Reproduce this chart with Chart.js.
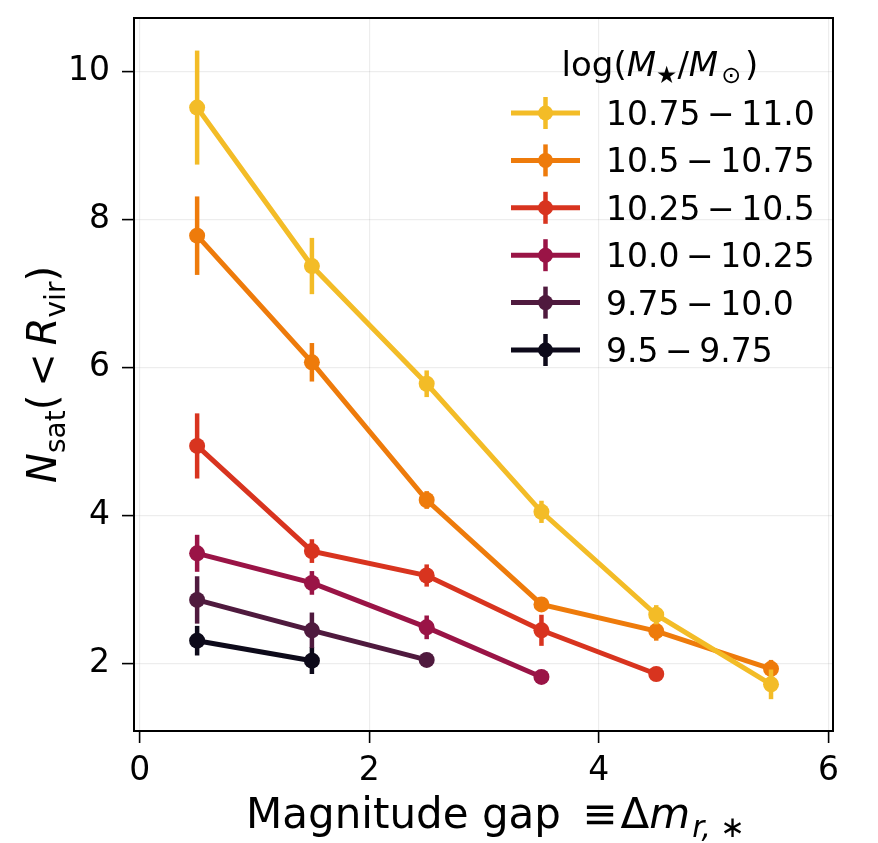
<!DOCTYPE html>
<html>
<head>
<meta charset="utf-8">
<script src="https://cdn.jsdelivr.net/npm/chart.js@4.4.1/dist/chart.umd.min.js"></script>
<style>
  html, body { margin: 0; padding: 0; background: #ffffff; }
  #wrap { width: 878px; height: 843px; position: relative; }
</style>
</head>
<body>
<div id="wrap"><canvas id="c"></canvas></div>
<script>
// ---- data ----
const gapBins = [0.5, 1.5, 2.5, 3.5, 4.5, 5.5];
const massLabels = ['10.75\u2009\u2212\u200911.0', '10.5\u2009\u2212\u200910.75', '10.25\u2009\u2212\u200910.5', '10.0\u2009\u2212\u200910.25', '9.75\u2009\u2212\u200910.0', '9.5\u2009\u2212\u20099.75'];
const nsat_1075_110 = [9.51, 7.37, 5.78, 4.05, 2.66, 1.72];
const err_1075_110  = [0.77, 0.38, 0.18, 0.15, 0.13, 0.20];
const nsat_105_1075 = [7.78, 6.07, 4.21, 2.80, 2.44, 1.93];
const err_105_1075  = [0.53, 0.26, 0.12, 0.08, 0.13, 0.12];
const nsat_1025_105 = [4.94, 3.52, 3.19, 2.45, 1.86];
const err_1025_105  = [0.44, 0.16, 0.15, 0.21, 0.07];
const nsat_100_1025 = [3.49, 3.09, 2.49, 1.82];
const err_100_1025  = [0.25, 0.16, 0.16, 0.06];
const nsat_975_100  = [2.86, 2.45, 2.05];
const err_975_100   = [0.32, 0.24, 0.08];
const nsat_95_975   = [2.31, 2.04];
const err_95_975    = [0.20, 0.18];
const xTicks = [0, 2, 4, 6];
const yTicks = [2, 4, 6, 8, 10];

const seriesValues = [nsat_1075_110, nsat_105_1075, nsat_1025_105, nsat_100_1025, nsat_975_100, nsat_95_975];
const seriesErrors = [err_1075_110, err_105_1075, err_1025_105, err_100_1025, err_975_100, err_95_975];
const seriesColors = ['#f3bc27', '#ee7b0b', '#d8341f', '#9a1446', '#4f1a3e', '#0d0a1a'];

const FONT = '"DejaVu Sans", "Liberation Sans", sans-serif';

const datasets = seriesValues.map((vals, i) => ({
  label: massLabels[i],
  data: vals.map((v, j) => ({ x: gapBins[j], y: v })),
  errors: seriesErrors[i],
  borderColor: seriesColors[i],
  backgroundColor: seriesColors[i],
  borderWidth: 5,
  pointRadius: 8,
  pointHoverRadius: 8,
  pointBorderWidth: 0,
  pointBackgroundColor: seriesColors[i],
  tension: 0,
  fill: false,
  order: i
}));

function richWidth(ctx, parts, size) {
  let w = 0;
  for (const p of parts) {
    const s = p.sub ? size * 0.7 : size;
    ctx.font = (p.italic ? 'italic ' : '') + s + 'px ' + FONT;
    w += ctx.measureText(p.t).width + (p.gap || 0);
  }
  return w;
}
function drawRich(ctx, parts, x, y, size, align) {
  const total = richWidth(ctx, parts, size);
  let cx = align === 'center' ? x - total / 2 : x;
  ctx.textAlign = 'left';
  ctx.textBaseline = 'alphabetic';
  for (const p of parts) {
    const s = p.sub ? size * 0.7 : size;
    ctx.font = (p.italic ? 'italic ' : '') + s + 'px ' + FONT;
    const dy = p.sub ? size * 0.22 : 0;
    ctx.fillText(p.t, cx, y + dy);
    cx += ctx.measureText(p.t).width + (p.gap || 0);
  }
}

const errorBarPlugin = {
  id: 'errorBars',
  beforeDatasetDraw(chart, args) {
    const ds = chart.data.datasets[args.index];
    const xs = chart.scales.x, ys = chart.scales.y;
    const ctx = chart.ctx;
    ctx.save();
    ctx.strokeStyle = ds.borderColor;
    ctx.lineWidth = 4.5;
    ctx.lineCap = 'butt';
    ds.data.forEach((pt, j) => {
      const e = ds.errors[j];
      const px = xs.getPixelForValue(pt.x);
      ctx.beginPath();
      ctx.moveTo(px, ys.getPixelForValue(pt.y - e));
      ctx.lineTo(px, ys.getPixelForValue(pt.y + e));
      ctx.stroke();
    });
    ctx.restore();
  }
};

const framePlugin = {
  id: 'frameAndTitles',
  afterDraw(chart) {
    const ctx = chart.ctx;
    const a = chart.chartArea;
    ctx.save();
    ctx.strokeStyle = '#000';
    ctx.lineWidth = 2;
    ctx.strokeRect(a.left, a.top, a.right - a.left, a.bottom - a.top);

    ctx.fillStyle = '#000';
    // x axis title
    drawRich(ctx, [
      { t: 'Magnitude gap ', gap: 8 },
      { t: '\u2261', gap: 3 },
      { t: '\u0394' },
      { t: 'm', italic: true, gap: 2 },
      { t: 'r, \u2217', italic: true, sub: true }
    ], (a.left + a.right) / 2 + 12, 828, 42, 'center');

    // y axis title (rotated)
    ctx.save();
    ctx.translate(56, (a.top + a.bottom) / 2);
    ctx.rotate(-Math.PI / 2);
    drawRich(ctx, [
      { t: 'N', italic: true },
      { t: 'sat', sub: true },
      { t: '(\u2009<\u2009' },
      { t: 'R', italic: true },
      { t: 'vir', sub: true },
      { t: ')' }
    ], 0, 0, 40, 'center');
    ctx.restore();

    // legend
    drawRich(ctx, [
      { t: 'log(' },
      { t: 'M', italic: true },
      { t: '\u2605', sub: true },
      { t: '/' },
      { t: 'M', italic: true, gap: 3 },
      { t: '\u2299', sub: true, gap: 4 },
      { t: ')' }
    ], 660, 76, 34, 'center');

    const rowTop = 113, rowStep = 47.4;
    chart.data.datasets.forEach((ds, i) => {
      const ry = rowTop + i * rowStep;
      ctx.strokeStyle = ds.borderColor;
      ctx.fillStyle = ds.borderColor;
      ctx.lineWidth = 5;
      ctx.beginPath(); ctx.moveTo(511, ry); ctx.lineTo(580, ry); ctx.stroke();
      ctx.lineWidth = 4.5;
      ctx.beginPath(); ctx.moveTo(545.5, ry - 16); ctx.lineTo(545.5, ry + 16); ctx.stroke();
      ctx.beginPath(); ctx.arc(545.5, ry, 7.5, 0, Math.PI * 2); ctx.fill();
      ctx.fillStyle = '#000';
      ctx.font = '33px ' + FONT;
      ctx.textAlign = 'left';
      ctx.textBaseline = 'alphabetic';
      ctx.fillText(ds.label, 606, ry + 12);
    });
    ctx.restore();
  }
};

new Chart(document.getElementById('c'), {
  type: 'line',
  data: { datasets },
  options: {
    responsive: true,
    maintainAspectRatio: false,
    devicePixelRatio: 1,
    animation: false,
    events: [],
    layout: { padding: { left: 0, top: 18, right: 45, bottom: 0 } },
    plugins: { legend: { display: false }, tooltip: { enabled: false } },
    scales: {
      x: {
        type: 'linear',
        min: -0.05,
        max: 6.04,
        afterBuildTicks: s => { s.ticks = xTicks.map(v => ({ value: v })); },
        afterFit: s => { s.height = 112; s.paddingLeft = 0; s.paddingRight = 0; },
        ticks: { font: { family: FONT, size: 33 }, color: '#000', padding: 9, maxRotation: 0, autoSkip: false },
        grid: { color: 'rgba(0,0,0,0.07)', lineWidth: 1.2, tickColor: '#000', tickLength: 12, tickWidth: 1.6 },
        border: { display: true, color: '#000', width: 2 }
      },
      y: {
        type: 'linear',
        min: 1.09,
        max: 10.72,
        afterBuildTicks: s => { s.ticks = yTicks.map(v => ({ value: v })); },
        afterFit: s => { s.width = 134; s.paddingTop = 0; s.paddingBottom = 0; },
        ticks: { font: { family: FONT, size: 33 }, color: '#000', padding: 12, autoSkip: false },
        grid: { color: 'rgba(0,0,0,0.07)', lineWidth: 1.2, tickColor: '#000', tickLength: 12, tickWidth: 1.6 },
        border: { display: true, color: '#000', width: 2 }
      }
    }
  },
  plugins: [errorBarPlugin, framePlugin]
});
</script>
</body>
</html>
